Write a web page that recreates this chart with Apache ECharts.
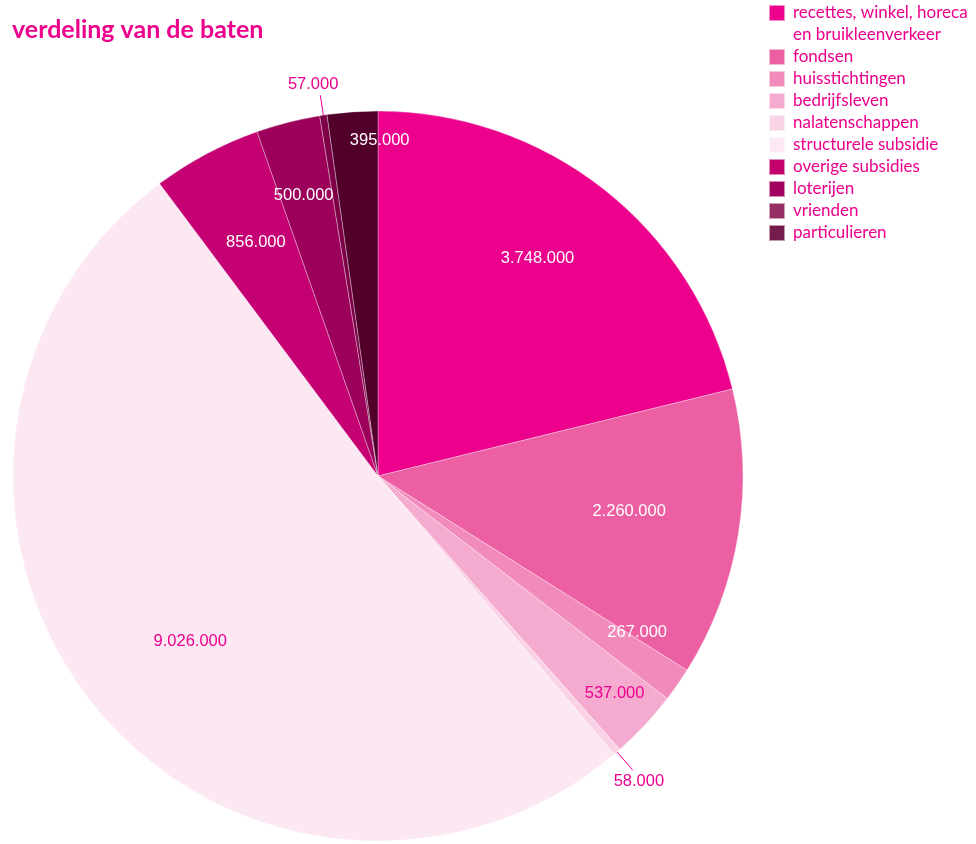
<!DOCTYPE html>
<html>
<head>
<meta charset="utf-8">
<script src="https://cdn.jsdelivr.net/npm/echarts@6/dist/echarts.min.js"></script>
<style>
html,body{margin:0;padding:0;background:#fff;}
#chart{width:976px;height:844px;}
</style>
</head>
<body>
<div id="chart"></div>
<script>
// ---- data ----
const titleText = 'verdeling van de baten';
const categories = [
  'recettes, winkel, horeca en bruikleenverkeer',
  'fondsen',
  'huisstichtingen',
  'bedrijfsleven',
  'nalatenschappen',
  'structurele subsidie',
  'overige subsidies',
  'loterijen',
  'vrienden',
  'particulieren'
];
const values = [3748000, 2260000, 267000, 537000, 58000, 9026000, 856000, 500000, 57000, 395000];

// ---- style ----
const sliceColors = ['#ec008c','#ec5fa2','#f18bbb','#f5abd0','#f9d3e5','#fce8f2','#c50073','#9c005b','#7d0046','#52002b'];
const legendColors = ['#ec008c','#ec5fa2','#f08bbb','#f5abd0','#f9d4e6','#fde9f3','#c4006f','#a10060','#952f64','#741c4b'];
const labelColors = ['#fff','#fff','#fff','#ec008c','#ec008c','#ec008c','#fff','#fff','#ec008c','#fff'];
const labelPlacement = ['inside','inside','inside','inside','outside','inside','inside','inside','outside','inside'];
const labelRadiusFrac = [0.74,0.695,0.83,0.88,0,0.685,0.723,0.796,0,0.92];
const labelAngleShift = [-1.9,-1.1,-3.7,-0.5,0,-2.8,0.5,-0.55,0,4.3];
// outside labels: line length, distance to line, text below/above line end
const outsideStyle = {
  4: { length: 24, distance: -19, below: true },
  8: { length: 20, distance: -18, below: false }
};
const pieCenter = [378, 476];
const pieRadius = 365;
const pink = '#ec008c';

function fmt(v){ return String(v).replace(/\B(?=(\d{3})+(?!\d))/g, '.'); }

const chart = echarts.init(document.getElementById('chart'), null, {renderer:'canvas'});

const seriesData = categories.map((c, i) => {
  const item = {
    name: c,
    value: values[i],
    itemStyle: { color: sliceColors[i] },
    label: { position: labelPlacement[i], color: labelColors[i] },
    labelLine: { show: labelPlacement[i] === 'outside' }
  };
  const o = outsideStyle[i];
  if (o) {
    item.label.distanceToLabelLine = o.distance;
    item.label.lineHeight = 22;
    item.label.formatter = p => (o.below ? '\n' + fmt(p.value) : fmt(p.value) + '\n');
    item.labelLine.length = o.length;
    item.labelLine.length2 = 0;
  }
  return item;
});

const option = {
  animation: false,
  title: {
    text: titleText,
    left: 12, top: 17, padding: 0,
    textStyle: { color: pink, fontFamily: 'Lato', fontWeight: 'bold', fontSize: 25 }
  },
  legend: [
    {
      orient: 'vertical', left: 768, top: -20, padding: 0,
      itemWidth: 16, itemHeight: 16, itemGap: 4,
      icon: 'rect',
      selectedMode: false,
      data: [{ name: categories[0], itemStyle: { color: legendColors[0] } }],
      formatter: n => '\n' + n.replace('horeca ', 'horeca\n'),
      textStyle: { color: pink, fontFamily: 'Lato', fontSize: 17, lineHeight: 22, padding: [0, 0, 0, 3] }
    },
    {
      orient: 'vertical', left: 768, top: 48, padding: 0,
      itemWidth: 16, itemHeight: 16, itemGap: 4,
      icon: 'rect',
      selectedMode: false,
      data: categories.slice(1).map((c, k) => ({ name: c, itemStyle: { color: legendColors[k + 1] } })),
      textStyle: { color: pink, fontFamily: 'Lato', fontSize: 17, lineHeight: 16, padding: [0, 0, 0, 3] }
    }
  ],
  series: [{
    type: 'pie',
    center: pieCenter,
    radius: pieRadius,
    startAngle: 90,
    clockwise: true,
    avoidLabelOverlap: false,
    itemStyle: { borderColor: 'rgba(255,255,255,0.55)', borderWidth: 0.6 },
    label: {
      show: true,
      fontFamily: 'Liberation Sans',
      fontSize: 16.5,
      formatter: p => fmt(p.value)
    },
    labelLine: { length: 17, length2: 0, smooth: false, lineStyle: { color: pink, width: 1 } },
    emphasis: { disabled: true },
    data: seriesData,
    labelLayout: function (params) {
      const i = params.dataIndex;
      if (labelPlacement[i] !== 'inside') return;
      const lr = params.labelRect;
      const dx = lr.x + lr.width / 2 - pieCenter[0];
      const dy = lr.y + lr.height / 2 - pieCenter[1];
      const ang = Math.atan2(dx, -dy) + labelAngleShift[i] * Math.PI / 180;
      const r = labelRadiusFrac[i] * pieRadius;
      return {
        x: pieCenter[0] + r * Math.sin(ang),
        y: pieCenter[1] - r * Math.cos(ang),
        align: 'center', verticalAlign: 'middle'
      };
    }
  }]
};
chart.setOption(option);
</script>
</body>
</html>
